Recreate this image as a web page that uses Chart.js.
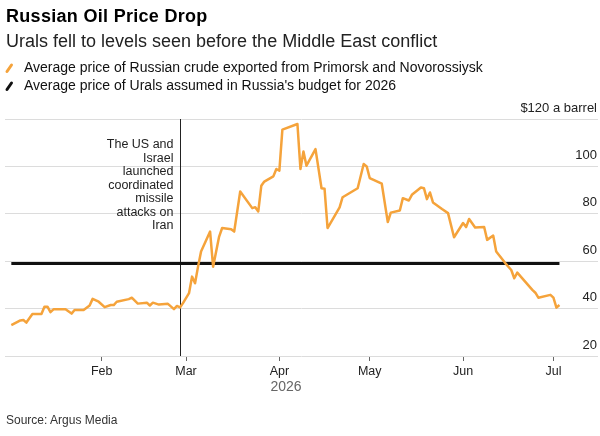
<!DOCTYPE html>
<html>
<head>
<meta charset="utf-8">
<script src="https://cdn.jsdelivr.net/npm/chart.js@4.4.1/dist/chart.umd.min.js"></script>
<style>
  html, body { margin: 0; padding: 0; background: #fff; }
  body { width: 600px; height: 436px; position: relative; overflow: hidden;
         font-family: "Liberation Sans", Arial, sans-serif; color: #111; }
  #chart { position: absolute; left: 0; top: 0; }
  .txt { position: absolute; left: 6px; white-space: nowrap; line-height: 1; }
  #title { top: 6.5px; font-size: 18px; font-weight: bold; letter-spacing: 0.3px; color: #000; }
  #subtitle { top: 32px; font-size: 18px; color: #222; }
  .leg { left: 24px; font-size: 14px; color: #111; }
  #leg1 { top: 60px; }
  #leg2 { top: 77.5px; }
  #source { top: 414px; font-size: 12px; color: #333; }
  .icon { position: absolute; left: 4px; }
</style>
</head>
<body>
<canvas id="chart" width="600" height="436"></canvas>
<div class="txt" id="title">Russian Oil Price Drop</div>
<div class="txt" id="subtitle">Urals fell to levels seen before the Middle East conflict</div>
<svg class="icon" style="top:62px" width="12" height="12"><line x1="3" y1="9.5" x2="7.5" y2="3" stroke="#f5a33b" stroke-width="3" stroke-linecap="round"/></svg>
<div class="txt leg" id="leg1">Average price of Russian crude exported from Primorsk and Novorossiysk</div>
<svg class="icon" style="top:80px" width="12" height="12"><line x1="3" y1="9.5" x2="7.5" y2="3" stroke="#111" stroke-width="3" stroke-linecap="round"/></svg>
<div class="txt leg" id="leg2">Average price of Urals assumed in Russia's budget for 2026</div>
<div class="txt" id="source">Source: Argus Media</div>

<script>
document.addEventListener("DOMContentLoaded", () => {

  // ===== DATA =====
  const priceDates = [
    "2026-01-02", "2026-01-05", "2026-01-06", "2026-01-07", "2026-01-09", "2026-01-12",
    "2026-01-13", "2026-01-14", "2026-01-15", "2026-01-16", "2026-01-20", "2026-01-22",
    "2026-01-23", "2026-01-26", "2026-01-28", "2026-01-29", "2026-01-31", "2026-02-02",
    "2026-02-04", "2026-02-05", "2026-02-06", "2026-02-10", "2026-02-11", "2026-02-13",
    "2026-02-16", "2026-02-17", "2026-02-18", "2026-02-20", "2026-02-23", "2026-02-25",
    "2026-02-26", "2026-02-27", "2026-02-28", "2026-03-02", "2026-03-03", "2026-03-04",
    "2026-03-05", "2026-03-06", "2026-03-09", "2026-03-10", "2026-03-12", "2026-03-13",
    "2026-03-16", "2026-03-17", "2026-03-19", "2026-03-23", "2026-03-24", "2026-03-25",
    "2026-03-26", "2026-03-27", "2026-03-30", "2026-03-31", "2026-04-01", "2026-04-02",
    "2026-04-07", "2026-04-08", "2026-04-09", "2026-04-10", "2026-04-13", "2026-04-15",
    "2026-04-16", "2026-04-17", "2026-04-21", "2026-04-22", "2026-04-27", "2026-04-29",
    "2026-04-30", "2026-05-01", "2026-05-05", "2026-05-07", "2026-05-08", "2026-05-11",
    "2026-05-12", "2026-05-14", "2026-05-15", "2026-05-18", "2026-05-19", "2026-05-20",
    "2026-05-21", "2026-05-22", "2026-05-25", "2026-05-27", "2026-05-29", "2026-06-01",
    "2026-06-02", "2026-06-03", "2026-06-05", "2026-06-08", "2026-06-09", "2026-06-11",
    "2026-06-12", "2026-06-15", "2026-06-17", "2026-06-18", "2026-06-19", "2026-06-24",
    "2026-06-25", "2026-06-26", "2026-06-30", "2026-07-01", "2026-07-02", "2026-07-03"
  ];
  const priceValues = [
    33.0, 35.0, 35.2, 34.1, 37.7, 37.7,
    40.8, 40.8, 38.5, 39.7, 39.7, 37.9,
    39.4, 39.4, 41.3, 44.1, 42.9, 40.6,
    41.5, 41.5, 42.9, 44.0, 44.6, 42.1,
    42.5, 41.3, 42.5, 41.7, 42.0, 39.8,
    41.1, 40.5, 42.3, 46.5, 53.5, 50.7,
    57.7, 64.1, 72.5, 57.7, 70.4, 74.0,
    73.5, 72.5, 89.4, 82.4, 82.8, 81.0,
    91.8, 93.6, 95.8, 98.9, 98.2, 115.5,
    117.9, 98.9, 106.3, 100.3, 107.3, 90.8,
    90.6, 74.0, 82.7, 87.0, 90.8, 101.0,
    100.0, 95.1, 92.7, 76.5, 80.5, 81.4,
    86.6, 85.6, 88.0, 91.1, 90.8, 86.2,
    89.0, 84.8, 82.0, 80.3, 70.1, 76.1,
    74.4, 77.8, 74.2, 74.4, 69.0, 70.8,
    64.1, 59.2, 56.3, 52.8, 55.2, 47.9,
    46.7, 44.6, 45.8, 44.6, 40.4, 41.5
  ];

  const budgetValue = 59;
  const budgetDates = ["2026-01-02", "2026-07-03"];

  const attackDate = "2026-02-27";
  const attackNote = ["The US and", "Israel", "launched", "coordinated", "missile", "attacks on", "Iran"];

  const monthLabels = ["Feb", "Mar", "Apr", "May", "Jun", "Jul"];
  const monthDates  = ["2026-02-01", "2026-03-01", "2026-04-01", "2026-05-01", "2026-06-01", "2026-07-01"];
  const yearLabel = "2026";

  const yTicks = [20, 40, 60, 80, 100, 120];
  const yUnit = "$120 a barrel";

  // ===== UTIL =====
  const JAN1 = Date.UTC(2026, 0, 1);
  function dayOf(s) {
    const [y, m, d] = s.split("-").map(Number);
    return (Date.UTC(y, m - 1, d) - JAN1) / 864e5;
  }

  const FONT = '"Liberation Sans", Arial, sans-serif';
  const ORANGE = "#f5a33b";

  const monthDays = monthDates.map(dayOf);

  // ===== OVERLAY PLUGIN =====
  const overlay = {
    id: "overlay",
    beforeDatasetsDraw(chart) {
      const { ctx, chartArea, scales: { x } } = chart;
      const px = Math.round(x.getPixelForValue(dayOf(attackDate))) + 0.5;
      ctx.save();
      ctx.strokeStyle = "#222";
      ctx.lineWidth = 1;
      ctx.beginPath();
      ctx.moveTo(px, chartArea.top);
      ctx.lineTo(px, chartArea.bottom);
      ctx.stroke();

      ctx.fillStyle = "#222";
      ctx.font = "12.5px " + FONT;
      ctx.textAlign = "right";
      ctx.textBaseline = "middle";
      attackNote.forEach((line, i) => {
        ctx.fillText(line, px - 7, 144.5 + i * 13.55);
      });
      ctx.restore();
    },
    afterDraw(chart) {
      const { ctx, chartArea, scales: { y } } = chart;
      ctx.save();
      ctx.fillStyle = "#222";
      ctx.font = "13px " + FONT;
      ctx.textAlign = "right";
      ctx.textBaseline = "middle";
      yTicks.forEach(v => {
        const label = v === 120 ? yUnit : String(v);
        ctx.fillText(label, chartArea.right - 1, y.getPixelForValue(v) - 11);
      });

      ctx.fillStyle = "#666";
      ctx.font = "14px " + FONT;
      ctx.textAlign = "center";
      ctx.fillText(yearLabel, 286, 387.5);
      ctx.restore();
    }
  };

  // ===== CHART =====
  new Chart(document.getElementById("chart"), {
    type: "line",
    data: {
      datasets: [
        {
          label: "Average price of Russian crude exported from Primorsk and Novorossiysk",
          data: priceDates.map((d, i) => ({ x: dayOf(d), y: priceValues[i] })),
          borderColor: ORANGE,
          borderWidth: 2.5,
          borderJoinStyle: "round",
          pointRadius: 0,
          tension: 0,
          order: 1
        },
        {
          label: "Average price of Urals assumed in Russia's budget for 2026",
          data: budgetDates.map(d => ({ x: dayOf(d), y: budgetValue })),
          borderColor: "#111",
          borderWidth: 3,
          pointRadius: 0,
          order: 2
        }
      ]
    },
    options: {
      responsive: false,
      animation: false,
      events: [],
      layout: { padding: { top: 119, left: 5, right: 2, bottom: 0 } },
      plugins: {
        legend: { display: false },
        tooltip: { enabled: false }
      },
      scales: {
        x: {
          type: "linear",
          min: -1.1,
          max: 195.8,
          afterFit: s => { s.height = 80; },
          afterBuildTicks: s => { s.ticks = monthDays.map(v => ({ value: v })); },
          border: { display: false },
          grid: {
            drawOnChartArea: false,
            drawTicks: true,
            tickLength: 5,
            tickColor: "#666"
          },
          ticks: {
            autoSkip: false,
            maxRotation: 0,
            padding: 3,
            color: "#222",
            font: { family: FONT, size: 12.5 },
            callback: v => monthLabels[monthDays.indexOf(v)] || ""
          }
        },
        y: {
          position: "right",
          min: 20,
          max: 120,
          afterFit: s => { s.width = 0; },
          afterBuildTicks: s => { s.ticks = yTicks.map(v => ({ value: v })); },
          border: { display: false },
          grid: { color: "#dcdcdc", lineWidth: 1, drawTicks: false },
          ticks: { display: false }
        }
      }
    },
    plugins: [overlay]
  });
});
</script>
</body>
</html>
